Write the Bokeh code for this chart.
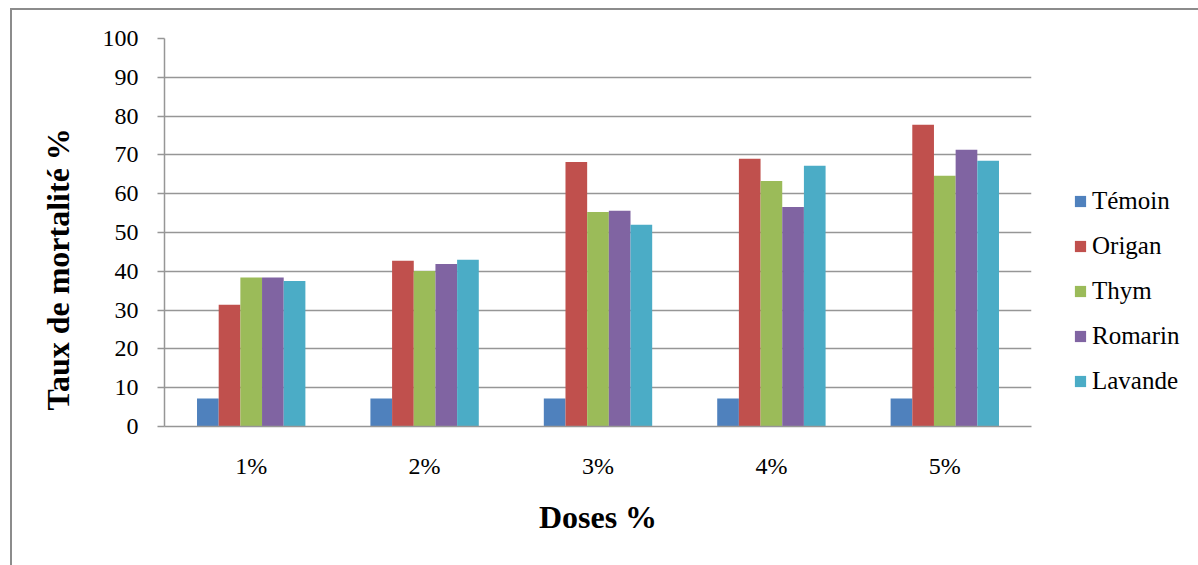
from bokeh.plotting import figure
from bokeh.models import (FactorRange, Range1d, ColumnDataSource, Legend, LegendItem,
                          Title, FixedTicker)
from bokeh.transform import dodge
from bokeh.embed import file_html
from bokeh.resources import INLINE

# Mortality rate (%) per essential oil and dose
doses = ["1%", "2%", "3%", "4%", "5%"]
temoin = [7.2, 7.2, 7.2, 7.2, 7.2]
origan = [31.4, 42.7, 68.2, 69.0, 77.8]
thym = [38.4, 40.1, 55.3, 63.3, 64.6]
romarin = [38.4, 41.9, 55.6, 56.6, 71.3]
lavande = [37.5, 43.0, 52.0, 67.2, 68.5]

series_names = ["Témoin", "Origan", "Thym", "Romarin", "Lavande"]
series_values = [temoin, origan, thym, romarin, lavande]
colors = ["#4F81BD", "#C0504D", "#9BBB59", "#8064A2", "#4BACC6"]
y_ticks = list(range(0, 101, 10))

FONT = "Liberation Serif"
GRID = "#969696"
FRAME = "2px solid #8c8c8c"

src = ColumnDataSource(dict(dose=doses, **{n: v for n, v in zip(series_names, series_values)}))

p = figure(frame_width=867, frame_height=388, x_range=FactorRange(*doses), y_range=Range1d(0, 100),
           output_backend="svg", toolbar_location=None,
           min_border_left=152, min_border_right=167, min_border_top=28, min_border_bottom=139,
           margin=(8, 0, 0, 10), styles={"border-left": FRAME, "border-top": FRAME})
p.outline_line_color = None
p.background_fill_color = "white"
p.border_fill_color = "white"

bar_w = 0.125
items = []
for i, (name, col) in enumerate(zip(series_names, colors)):
    off = (i - 2) * bar_w
    r = p.vbar(x=dodge("dose", off, range=p.x_range), top=name, width=bar_w, source=src,
               fill_color=col, line_color=None)
    items.append(LegendItem(label=name, renderers=[r]))

# axes
p.xgrid.grid_line_color = None
p.ygrid.grid_line_color = GRID
p.ygrid.grid_line_width = 1.5
p.yaxis.ticker = FixedTicker(ticks=y_ticks)
for ax in (p.xaxis[0], p.yaxis[0]):
    ax.axis_line_color = GRID
    ax.axis_line_width = 1.5
    ax.major_tick_line_color = GRID
    ax.major_tick_line_width = 1.5
    ax.minor_tick_line_color = None
    ax.major_label_text_font = FONT
    ax.major_label_text_font_size = "24px"
    ax.major_label_text_color = "black"
p.yaxis.major_tick_out = 7
p.yaxis.major_tick_in = 0
p.yaxis.major_label_standoff = 19
p.xaxis.major_tick_out = 0
p.xaxis.major_tick_in = 0
p.xaxis.major_label_standoff = 26

# axis titles
p.add_layout(Title(text="Doses %", align="center", text_font=FONT, text_font_size="32px",
                   text_font_style="bold", text_color="black", standoff=30), "below")
p.add_layout(Title(text="Taux de mortalité %", align="left", offset=16, text_font=FONT,
                   text_font_size="32px", text_font_style="bold", text_color="black",
                   standoff=48), "left")

legend = Legend(items=items, location=(42, 31), padding=0, margin=0, spacing=17,
                glyph_width=14, glyph_height=14, label_standoff=5,
                label_text_font=FONT, label_text_font_size="25px",
                label_text_color="black",
                border_line_color=None, background_fill_alpha=0)
p.add_layout(legend, "right")

open("out.html", "w").write(file_html(p, INLINE))
